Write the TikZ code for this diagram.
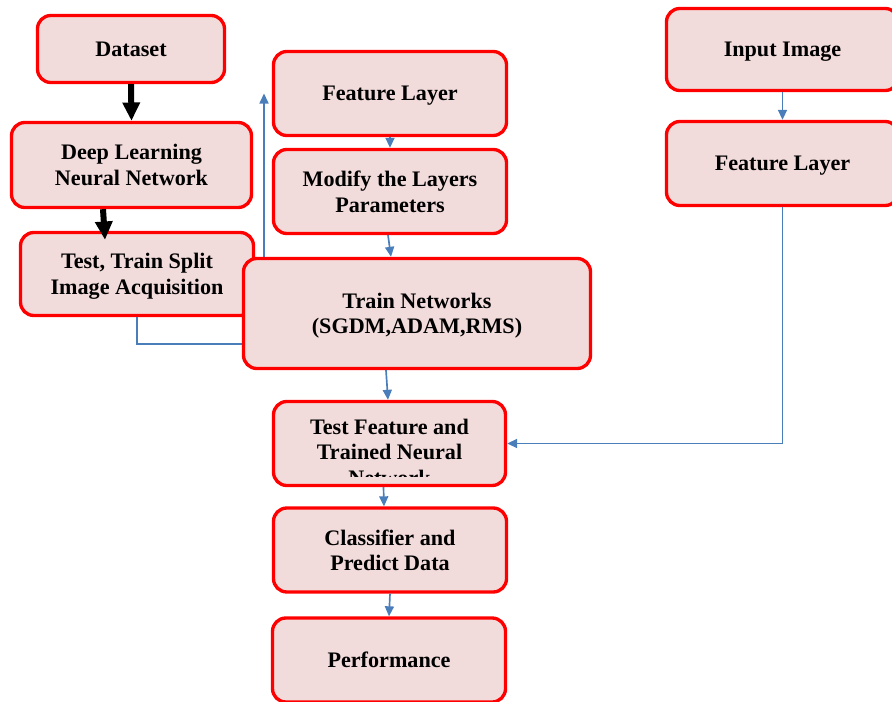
\documentclass[tikz,border=0pt]{standalone}
\usepackage{fontspec}
\setmainfont{Liberation Serif}
\usepackage{xcolor}
\usepackage{tikz}
\usetikzlibrary{arrows.meta,calc}

\definecolor{boxpink}{HTML}{F2DCDB}
\definecolor{linkblue}{HTML}{4A7EBB}

\begin{document}
\begin{tikzpicture}[x=0.03cm, y=-0.03cm,
  procbox/.style={rectangle, rounded corners=0.4cm, draw=red, fill=boxpink,
    line width=0.1cm, align=center, inner sep=0pt, text depth=0pt,
    font=\fontsize{18.9}{21.8}\selectfont\bfseries,
    minimum width=6.99cm, minimum height=2.52cm},
  boxtext/.style={align=center, inner sep=0pt,
    font=\fontsize{18.9}{21.8}\selectfont\bfseries},
  bluelink/.style={draw=linkblue, line width=0.05cm,
    -{Triangle[length=0.3cm,width=0.27cm]}},
  blacklink/.style={draw=black, line width=0.18cm,
    -{Triangle[length=0.55cm,width=0.5cm]}}]

\useasboundingbox (0,0) rectangle (892,702);
\clip (0,0) rectangle (892,702);

% Left column
\node[procbox, minimum width=5.61cm, minimum height=2.01cm] (ds) at (131,49) {Dataset};
\node[procbox, minimum width=7.2cm, minimum height=2.55cm] (dl) at (131.5,165) {Deep Learning\\Neural Network};
\node[procbox, minimum height=2.49cm] (tt) at (137,274) {Test, Train Split\\Image Acquisition};

% Middle column
\node[procbox] (fl) at (390,93.5) {Feature Layer};
\node[procbox] (md) at (390,191.5) {Modify the Layers\\Parameters};

% split output runs behind the training box
\coordinate (ttbend) at (264,344);
\draw[bluelink] (tt.south) |- (ttbend) -- (ttbend |- fl.west);

\node[procbox, minimum width=10.41cm, minimum height=3.3cm] (tn) at (417,313.5) {Train Networks\\(SGDM,ADAM,RMS)};

% Test box, last line cut off
\node[procbox, minimum width=6.96cm] (tf) at (389.5,443.5) {};
\begin{scope}
  \clip ($(tf.north west)+(3,3)$) rectangle ($(tf.south east)+(-3,-11)$);
  \node[boxtext] (tftext) at (389.5,452) {Test Feature and\\Trained Neural\\Network};
\end{scope}

\node[procbox] (cl) at (390,550) {Classifier and\\Predict Data};
\node[procbox] (pf) at (389,660) {Performance};

% Right column
\node[procbox, minimum width=6.96cm, minimum height=2.46cm] (inp) at (782.5,49.5) {Input Image};
\node[procbox, minimum width=6.96cm] (fr) at (782.5,163.5) {Feature Layer};

% Links
\draw[blacklink] (ds.south) -- (dl.north);
\draw[blacklink] ($(dl.south)+(-28.5,0)$) -- ($(tt.north)+(-32,9)$);
\draw[bluelink] (fl.south) -- (md.north);
\draw[bluelink] ($(md.south)+(-2,0)$) -- ($(tn.north)+(-26,0)$);
\draw[bluelink] ($(tn.south)+(-31,0)$) -- ($(tf.north)+(-1.5,0)$);
\draw[bluelink] ($(tf.south)+(-6,0)$) -- ($(cl.north)+(-6,0)$);
\draw[bluelink] (cl.south) -- (pf.north);
\draw[bluelink] (inp.south) -- (fr.north);
\draw[bluelink] (fr.south) |- (tf.east);

\end{tikzpicture}
\end{document}
